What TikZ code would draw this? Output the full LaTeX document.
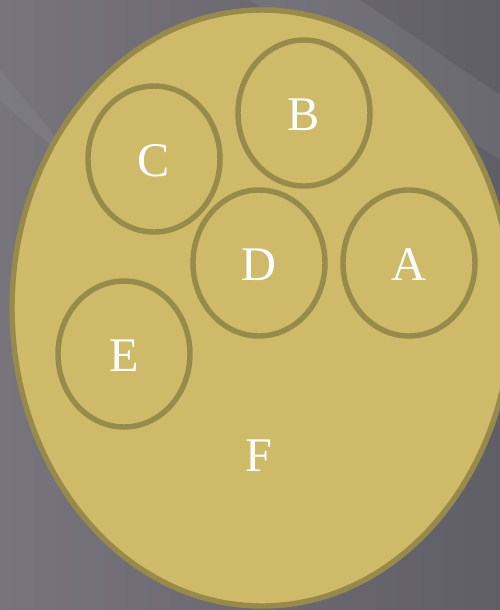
\documentclass[tikz,border=0pt]{standalone}
\usepackage{fontspec}
\setmainfont{Liberation Serif}
\definecolor{bgdark}{HTML}{605E66}
\definecolor{bglight}{HTML}{77747C}
\definecolor{gold}{HTML}{CFBA6A}
\definecolor{goldline}{HTML}{978A4A}
\begin{document}
\begin{tikzpicture}
   [x=0.02cm,y=-0.02cm,
    ring/.style={draw=goldline,line width=3.1pt},
    every node/.style={text=white,font=\fontsize{27.5}{30}\selectfont}]
  % background
  \shade[left color=bglight,right color=bgdark] (0,0) rectangle (500,610);
  \fill[white,opacity=.07] (250,0) -- (360,0) -- (500,95) -- (500,160) -- cycle;
  \fill[white,opacity=.05] (0,70) -- (0,100) -- (100,190) -- cycle;
  \useasboundingbox (0,0) rectangle (500,610);

  % big set F
  \draw[ring,fill=gold] (262,308) ellipse [x radius=250,y radius=298];

  % small sets
  \foreach \x/\y in {154/159, 304/113, 259/263, 409/263, 124/354}
    \draw[ring] (\x,\y) ellipse [x radius=66,y radius=73];

  \node (c) at (154,161) {C};
  \node (b) at (304,115) {B};
  \node (d) at (259,265) {D};
  \node (a) at (409,265) {A};
  \node (e) at (124,356) {E};
  \node (f) at (259,456) {F};

\end{tikzpicture}
\end{document}
